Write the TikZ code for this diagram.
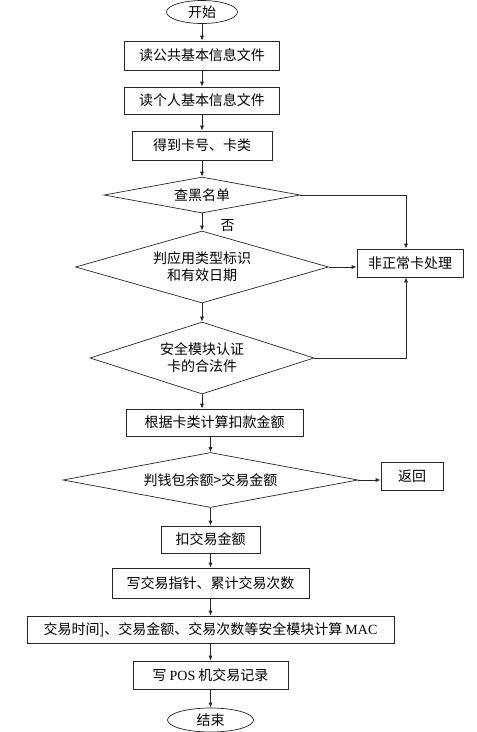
\documentclass[tikz,border=0pt]{standalone}
\usepackage{fontspec}
\newfontfamily\cjk{Noto Sans CJK SC}
\newfontfamily\lat{Liberation Serif}
\usetikzlibrary{positioning}
\usetikzlibrary{shapes.geometric,arrows.meta}

\begin{document}
\begin{tikzpicture}[x=1pt, y=1pt, font=\cjk\fontsize{14}{17}\selectfont,
		term/.style = {draw=black!85, line width=0.7pt, ellipse, inner sep=0pt},
		proc/.style = {draw=black!85, line width=0.7pt, rectangle, inner sep=0pt},
		dec/.style = {draw=black!85, line width=0.7pt, diamond, inner sep=0pt, align=center},
		flow/.style = {draw=black!85, line width=0.7pt, -{Latex[length=5pt,width=4pt]}}]
		\useasboundingbox (0,0) rectangle (477,-732);
		\node[term, minimum width=71pt, minimum height=23pt] (start) at (202,-12) {开始};
		\node[proc, node distance=43.5pt, minimum width=155pt, minimum height=29pt] (pub) [below of=start] {读公共基本信息文件};
		\node[proc, node distance=45pt, minimum width=155pt, minimum height=27pt] (per) [below of=pub] {读个人基本信息文件};
		\node[proc, node distance=45pt, minimum width=140pt, minimum height=29pt] (card) [below of=per] {得到卡号、卡类};
		\node[dec, node distance=49.5pt, aspect=5.44, minimum width=196pt, minimum height=36pt] (black) [below of=card] {查黑名单};
		\node[dec, node distance=72pt, aspect=3.5, minimum width=253pt, minimum height=72pt] (type) [below of=black] {判应用类型标识\\和有效日期};
		\node[dec, node distance=91pt, aspect=3.1, minimum width=224pt, minimum height=72pt] (auth) [below of=type] {安全模块认证\\卡的合法件};
		\node[proc, node distance=64.5pt, minimum width=177pt, minimum height=27pt] (fee) [below of=auth, xshift=12.5pt] {根据卡类计算扣款金额};
		\node[dec, node distance=57.5pt, aspect=5.36, minimum width=295pt, minimum height=55pt] (bal) [below of=fee, xshift=-4pt] {判钱包余额>交易金额};
		\node[proc, node distance=59.5pt, minimum width=99pt, minimum height=27pt] (pay) [below of=bal] {扣交易金额};
		\node[proc, node distance=43.5pt, minimum width=197pt, minimum height=30pt] (ptr) [below of=pay] {写交易指针、累计交易次数};
		\node[proc, node distance=46.5pt, minimum width=367pt, minimum height=27pt] (mac) [below of=ptr] {交易时间]、交易金额、交易次数等安全模块计算 {\lat MAC}};
		\node[proc, node distance=45.5pt, minimum width=155pt, minimum height=28pt] (pos) [below of=mac] {写 {\lat POS} 机交易记录};
		\node[term, node distance=45pt, minimum width=86pt, minimum height=24pt] (stop) [below of=pos] {结束};
		\node[proc, node distance=208pt, minimum width=106pt, minimum height=28pt] (bad) [right of=type, yshift=4pt] {非正常卡处理};
		\node[proc, node distance=201.5pt, minimum width=62pt, minimum height=28pt] (back) [right of=bal, yshift=4pt] {返回};
		\draw[flow] (start) -- (pub);
		\draw[flow] (pub) -- (per);
		\draw[flow] (per) -- (card);
		\draw[flow] (card) -- (black);
		\draw[flow] (black) -- node[right=15pt, yshift=-4pt] (no) {否} (type);
		\draw[flow] (type) -- (auth);
		\draw[flow] (auth.south) -- (auth.south |- fee.north);
		\draw[flow] (fee.south -| bal.north) -- (bal.north);
		\draw[flow] (bal) -- (pay);
		\draw[flow] (pay) -- (ptr);
		\draw[flow] (ptr) -- (mac);
		\draw[flow] (mac) -- (pos);
		\draw[flow] (pos) -- (stop);
		\draw[flow] (black.east) -| ([xshift=-4pt]bad.north);
		\draw[flow] (type.east) -- (type.east -| bad.west);
		\draw[flow] (auth.east) -| ([xshift=-4pt]bad.south);
		\draw[flow] (bal.east) -- (bal.east -| back.west);
	\end{tikzpicture}
\end{document}
